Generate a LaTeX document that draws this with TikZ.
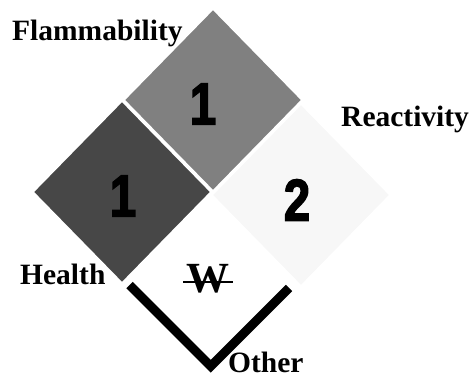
\documentclass[tikz,border=0pt]{standalone}
\usepackage{fontspec}
\setmainfont{Liberation Serif}
\newfontfamily\numfont[FakeStretch=0.8,FakeBold=2.5]{Liberation Sans Bold}
\usetikzlibrary{shapes.geometric}
\definecolor{flamgray}{gray}{0.5}
\definecolor{healthgray}{gray}{0.28}
\definecolor{reactgray}{gray}{0.97}

\begin{document}
\begin{tikzpicture}[x=1pt,y=-1pt,
panel/.style={diamond, draw=white, line width=3pt, minimum width=180pt, minimum height=184pt, inner sep=0pt, outer sep=0pt},
num/.style={font=\numfont\fontsize{59}{59}\selectfont, inner sep=0pt},
tag/.style={font=\bfseries\fontsize{29.5}{31}\selectfont, inner sep=0pt, anchor=base west},
]
\useasboundingbox (0,0) rectangle (471,379);

% the three coloured panels
\node[panel, fill=flamgray] (flam) at (213,100) {};
\node[panel, fill=healthgray] (health) at (122,192) {};
\node[panel, fill=reactgray] (react) at (301,195) {};

% ratings
\node[num] (flamnum) at (203,104) {1};
\node[num] (healthnum) at (123,196) {1};
\node[num] (reactnum) at (297,200) {2};

% special hazard
\node[font=\bfseries\fontsize{43}{43}\selectfont, inner sep=0pt, inner xsep=3pt, anchor=base] (other) at (208,293) {W};
\draw[line width=2pt] ([yshift=11pt]other.base west) -- ([yshift=11pt]other.base east);

% open bottom panel
\coordinate (vleft) at (129.5,285);
\coordinate (vtip) at (210.75,366.25);
\coordinate (vright) at (289,288);
\draw[line width=9pt, miter limit=10] (vleft) -- (vtip) -- (vright);

% labels
\node[tag] (flamtag) at (12,41) {Flammability};
\node[tag] (reacttag) at (341,127) {Reactivity};
\node[tag] (healthtag) at (20,284) {Health};
\node[tag] (othertag) at (228,372) {Other};
\end{tikzpicture}
\end{document}
